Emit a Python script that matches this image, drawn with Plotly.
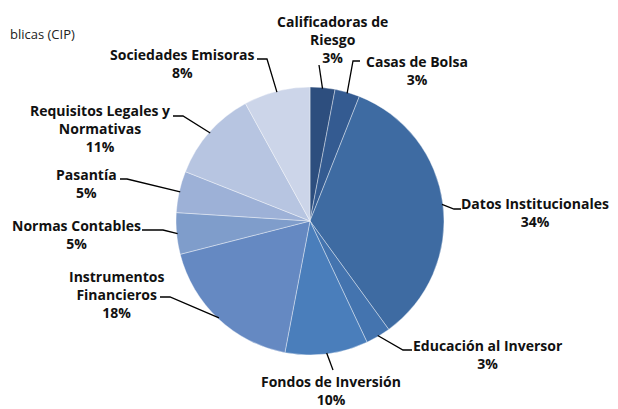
import math
import plotly.graph_objects as go

# ---- data ----
categories = ["Calificadoras de Riesgo", "Casas de Bolsa", "Datos Institucionales",
              "Educación al Inversor", "Fondos de Inversión", "Instrumentos Financieros",
              "Normas Contables", "Pasantía", "Requisitos Legales y Normativas",
              "Sociedades Emisoras"]
values = [3, 3, 34, 3, 10, 18, 5, 5, 11, 8]
label_texts = ["Calificadoras de<br>Riesgo", "Casas de Bolsa", "Datos Institucionales",
               "Educación al Inversor", "Fondos de Inversión", "Instrumentos<br>Financieros",
               "Normas Contables", "Pasantía", "Requisitos Legales y<br>Normativas",
               "Sociedades Emisoras"]
colors = ["#2D4E7E", "#345B91", "#3E6BA2", "#4474AF", "#4A7EBB", "#6589C2",
          "#7F9DCB", "#9DB1D7", "#B7C5E1", "#CCD5E9"]

W, H = 618, 409
OFF = 8  # page body margin offset
CX, CY, R = 310, 221, 134

# label placement (window pixel space): text center, elbow point, line end near text
label_pos = [(332, 39.5), (417, 70), (535, 212.5), (488, 354), (331, 390),
             (117, 294), (76, 234.5), (86, 183.5), (100, 129), (182, 63.5)]
elbows = [None, (353, 61), (454, 209), (403, 350), None,
          (170, 297), (163, 230), (127, 179), (183, 116), (267, 59)]
ends = [(319, 65), (360, 61), (461, 209), (412, 350), (333, 370),
        (160, 297), (142, 230), (120, 179), (173, 116), (257, 59)]


def px(x, y):
    return (x - OFF) / W, 1 - (y - OFF) / H


fig = go.Figure()
x0, y1 = px(CX - R, CY - R)
x1, y0 = px(CX + R, CY + R)
fig.add_trace(go.Pie(
    labels=categories, values=values, sort=False, direction="clockwise",
    rotation=0, textinfo="none", showlegend=False,
    marker=dict(colors=colors, line=dict(color="rgba(255,255,255,0.55)", width=0.7)),
    domain=dict(x=[x0, x1], y=[y0, y1]),
))

total = sum(values)
cum = 0
shapes = []
annotations = []
font = dict(family="'Open Sans', Lato, sans-serif", size=14, color="#111111")
for i, v in enumerate(values):
    mid = (cum + v / 2) / total * 2 * math.pi
    cum += v
    ex = CX + (R - 1) * math.sin(mid)
    ey = CY - (R - 1) * math.cos(mid)
    pts = [(ex, ey)]
    if elbows[i] is not None:
        pts.append(elbows[i])
    pts.append(ends[i])
    path = "M " + " L ".join(f"{px(x, y)[0]:.5f},{px(x, y)[1]:.5f}" for x, y in pts)
    shapes.append(dict(type="path", path=path, xref="paper", yref="paper",
                       line=dict(color="#000000", width=1.3)))
    tx, ty = px(*label_pos[i])
    annotations.append(dict(
        x=tx, y=ty, xref="paper", yref="paper", xanchor="center", yanchor="middle",
        text=f"<b>{label_texts[i]}<br>{round(v / total * 100)}%</b>", showarrow=False,
        font=font, align="center"))

annotations.append(dict(x=0, y=px(0, 34)[1], xref="paper", yref="paper",
                        xanchor="left", yanchor="middle", text="blicas (CIP)",
                        showarrow=False,
                        font=dict(family="'Open Sans', Lato, sans-serif", size=13, color="#222222")))

fig.update_layout(width=W, height=H, margin=dict(l=0, r=0, t=0, b=0),
                  paper_bgcolor="white", plot_bgcolor="white",
                  shapes=shapes, annotations=annotations)
fig.write_html("out.html")
